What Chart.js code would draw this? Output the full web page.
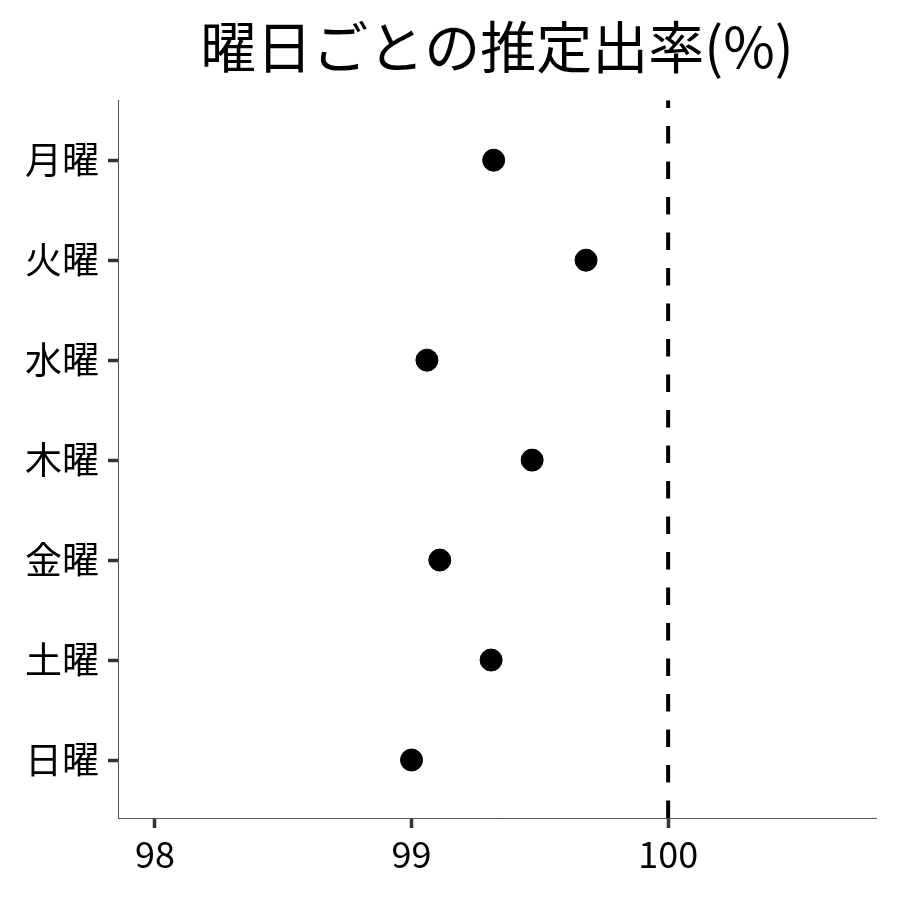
<!DOCTYPE html>
<html>
<head>
<meta charset="utf-8">
<script src="https://cdn.jsdelivr.net/npm/chart.js@4"></script>
<style>
  body { margin: 0; background: #fff; }
  #wrap { width: 900px; height: 900px; }
</style>
</head>
<body>
<div id="wrap"><canvas id="rateChart"></canvas></div>
<script>
const days = ["月曜", "火曜", "水曜", "木曜", "金曜", "土曜", "日曜"];
const rates = [99.32, 99.68, 99.06, 99.47, 99.11, 99.31, 99.0];
const refValue = 100;
const xTicks = [98, 99, 100];

const FONT = "'Noto Sans CJK JP', 'Noto Sans', sans-serif";

const points = days.map((d, i) => ({ x: rates[i], y: i + 1 }));

const ctx = document.getElementById("rateChart").getContext("2d");
const rateChart = new Chart(ctx, {
  type: "scatter",
  data: {
    datasets: [
      {
        type: "line",
        label: "ref",
        data: [
          { x: refValue, y: 7.58 },
          { x: refValue, y: 0.4 },
        ],
        borderColor: "#000",
        borderWidth: 4,
        borderDash: [17.5, 18],
        pointRadius: 0,
        fill: false,
      },
      {
        label: "rate",
        data: points,
        backgroundColor: "#000",
        borderColor: "#000",
        borderWidth: 1,
        pointRadius: 11,
        pointHoverRadius: 11,
      },
    ],
  },
  options: {
    responsive: true,
    maintainAspectRatio: false,
    animation: false,
    layout: {
      padding: { right: 24 },
    },
    plugins: {
      legend: { display: false },
      tooltip: { enabled: false },
      title: {
        display: true,
        fullSize: false,
        text: "曜日ごとの推定出率(%)",
        color: "#000",
        font: { family: FONT, size: 56, weight: "normal" },
        padding: { top: 13, bottom: 20 },
      },
    },
    scales: {
      x: {
        type: "linear",
        min: 97.856,
        max: 100.81,
        afterBuildTicks: (axis) => {
          axis.ticks = xTicks.map((v) => ({ value: v }));
        },
        afterFit: (axis) => {
          axis.height = 82;
        },
        ticks: {
          color: "#000",
          padding: 5,
          font: { family: FONT, size: 36 },
        },
        grid: {
          drawOnChartArea: false,
          drawTicks: true,
          tickLength: 10,
          tickWidth: 3.5,
          tickColor: "#333",
        },
        border: { color: "#555", width: 1 },
      },
      y: {
        type: "linear",
        reverse: true,
        min: 0.4,
        max: 7.58,
        afterBuildTicks: (axis) => {
          axis.ticks = days.map((d, i) => ({ value: i + 1 }));
        },
        afterFit: (axis) => {
          axis.width = 118;
        },
        ticks: {
          color: "#000",
          padding: 9,
          font: { family: FONT, size: 37 },
          callback: (value) => days[value - 1],
        },
        grid: {
          drawOnChartArea: false,
          drawTicks: true,
          tickLength: 10,
          tickWidth: 3.5,
          tickColor: "#333",
        },
        border: { color: "#555", width: 1 },
      },
    },
  },
});
</script>
</body>
</html>
